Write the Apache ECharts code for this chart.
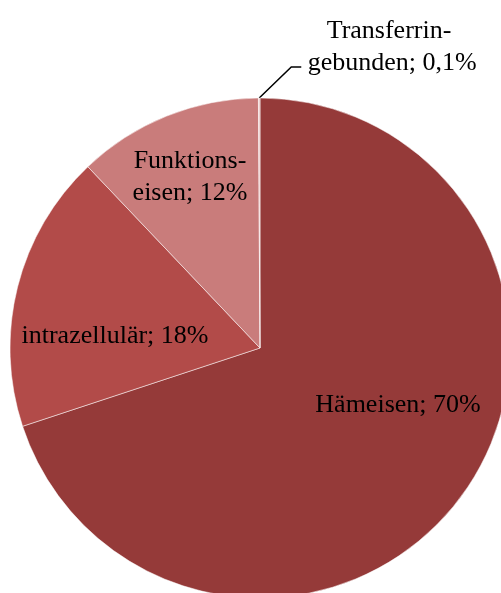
<!DOCTYPE html>
<html>
<head>
<meta charset="utf-8">
<script src="https://cdn.jsdelivr.net/npm/echarts@6/dist/echarts.min.js"></script>
<style>
  html, body { margin: 0; padding: 0; background: #fff; }
  #chart { width: 501px; height: 593px; }
</style>
</head>
<body>
<div id="chart"></div>
<script>
const labels = ["Hämeisen; 70%", "intrazellulär; 18%", "Funktions-\neisen; 12%", "Transferrin-\ngebunden; 0,1%"];
const names = ["Hämeisen", "intrazellulär", "Funktionseisen", "Transferrin-gebunden"];
const values = [70, 18, 12, 0.1];
const colors = ["#953a39", "#b24b49", "#c97c7b", "#e9c3c2"];

// label anchor points (Excel-style placement)
const labelPos = [
  { x: 398, y: 405 },
  { x: 115, y: 336 },
  { x: 190, y: 177 },
  { x: 389, y: 67 },
];

const chart = echarts.init(document.getElementById("chart"));
chart.setOption({
  animation: false,
  series: [{
    type: "pie",
    center: [260, 348],
    radius: 250,
    startAngle: 90,
    clockwise: true,
    avoidLabelOverlap: false,
    itemStyle: { borderColor: "rgba(255,255,255,0.5)", borderWidth: 1 },
    label: {
      show: true,
      position: "inside",
      fontFamily: "'Liberation Serif', 'Times New Roman', serif",
      fontSize: 26,
      lineHeight: 32,
      color: "#000",
      formatter: (p) => labels[p.dataIndex],
    },
    labelLine: { show: false },
    labelLayout: (p) => ({
      x: labelPos[p.dataIndex].x,
      y: labelPos[p.dataIndex].y,
      align: "center",
      verticalAlign: "middle",
    }),
    data: values.map((v, i) => ({
      name: names[i],
      value: v,
      itemStyle: { color: colors[i] },
      ...(i === 3 ? {
        // leading space + an empty third line put the rect's mid-left point
        // just beside "gebunden", where Excel hooks its leader line in
        label: {
          position: "outside",
          align: "center",
          formatter: () => labels[3].replace("\n", "\n ") + "\n{e| }",
          rich: { e: { fontSize: 26, lineHeight: 40 } },
        },
        labelLine: { show: true, length: 20, length2: 10, lineStyle: { color: "#000", width: 1.5 } },
      } : {}),
    })),
  }],
});
</script>
</body>
</html>
